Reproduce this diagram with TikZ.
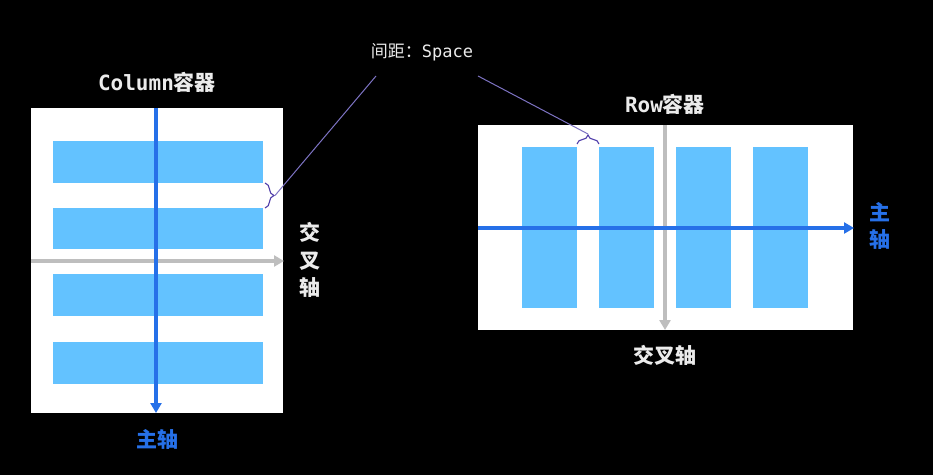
\documentclass[tikz,border=0pt]{standalone}
\usepackage{fontspec}
\usetikzlibrary{arrows.meta,decorations.pathreplacing}
\newfontfamily\cjk{Noto Sans CJK SC}
\newfontfamily\mono{DejaVu Sans Mono}

\begin{document}
\begin{tikzpicture}[x=1pt,y=1pt,
  box/.style={fill=white,draw=none,inner sep=0pt,outer sep=0pt},
  bar/.style={fill=barColor,draw=none,inner sep=0pt,outer sep=0pt},
  mainaxis/.style={draw=mainColor,line width=3.2pt,-{Triangle[length=10pt,width=11pt]}},
  crossaxis/.style={draw=crossColor,line width=3.2pt,-{Triangle[length=10pt,width=11pt]}},
  lbl/.style={text=textColor,inner sep=0pt,outer sep=0pt,font=\fontsize{21}{27.5}\selectfont\bfseries},
  bluelbl/.style={lbl,text=mainColor},
  hint/.style={draw=hintColor,line width=1pt},
  gap/.style={draw=braceColor,line width=1.1pt,decorate,decoration={brace,amplitude=9pt}}]
\definecolor{fillColor}{RGB}{0,0,0}
\definecolor{barColor}{RGB}{99,194,255}
\definecolor{mainColor}{RGB}{38,112,232}
\definecolor{crossColor}{RGB}{190,190,190}
\definecolor{textColor}{RGB}{235,235,235}
\definecolor{hintColor}{RGB}{125,115,195}
\definecolor{braceColor}{RGB}{80,62,170}
\path[use as bounding box,fill=fillColor] (0,0) rectangle (933,475);

% Column container
\path[box] (31,62) rectangle (283,367);
\path[bar] (53,292) rectangle (263,334);
\path[bar] (53,226) rectangle (263,267);
\path[bar] (53,159) rectangle (263,201);
\path[bar] (53, 91) rectangle (263,133);
\coordinate (colTop) at (156,367);
\coordinate (colEnd) at (156,62);
\coordinate (colLeft) at (31,214);
\coordinate (colRight) at (284,214);
\draw[crossaxis] (colLeft) -- (colRight);
\draw[mainaxis] (colTop) -- (colEnd);

\node[lbl] (colTitle) at (157,393) {{\mono Column}{\cjk 容器}};
\node[lbl,align=center] (colCross) at (310,215) {\cjk 交\\\cjk 叉\\\cjk 轴};
\node[bluelbl] (colMain) at (157,36) {\cjk 主轴};

% Row container
\path[box] (478,145) rectangle (853,350);
\path[bar] (522,167) rectangle (577,328);
\path[bar] (599,167) rectangle (654,328);
\path[bar] (676,167) rectangle (731,328);
\path[bar] (753,167) rectangle (808,328);
\coordinate (rowTop) at (665,350);
\coordinate (rowEnd) at (665,145);
\coordinate (rowLeft) at (478,247);
\coordinate (rowRight) at (854,247);
\draw[crossaxis] (rowTop) -- (rowEnd);
\draw[mainaxis] (rowLeft) -- (rowRight);

\node[lbl] (rowTitle) at (665,371) {{\mono Row}{\cjk 容器}};
\node[lbl] (rowCross) at (665,120) {\cjk 交叉轴};
\node[bluelbl,align=center] (rowMain) at (880,249) {\cjk 主\\\cjk 轴};

% spacing hint
\node[text=textColor,inner sep=0pt,font=\fontsize{17}{20}\selectfont] (space) at (422,423)
  {{\cjk 间距：}{\mono Space}};
\draw[gap] (265,292) -- (265,267) coordinate[midway,xshift=10pt] (gapCol);
\draw[gap] (577,331) -- (599,331) coordinate[midway,yshift=10pt] (gapRow);
\coordinate (hintL) at (376,399);
\coordinate (hintR) at (478,399);
\draw[hint] (hintL) -- (gapCol);
\draw[hint] (hintR) -- (gapRow);
\end{tikzpicture}
\end{document}
